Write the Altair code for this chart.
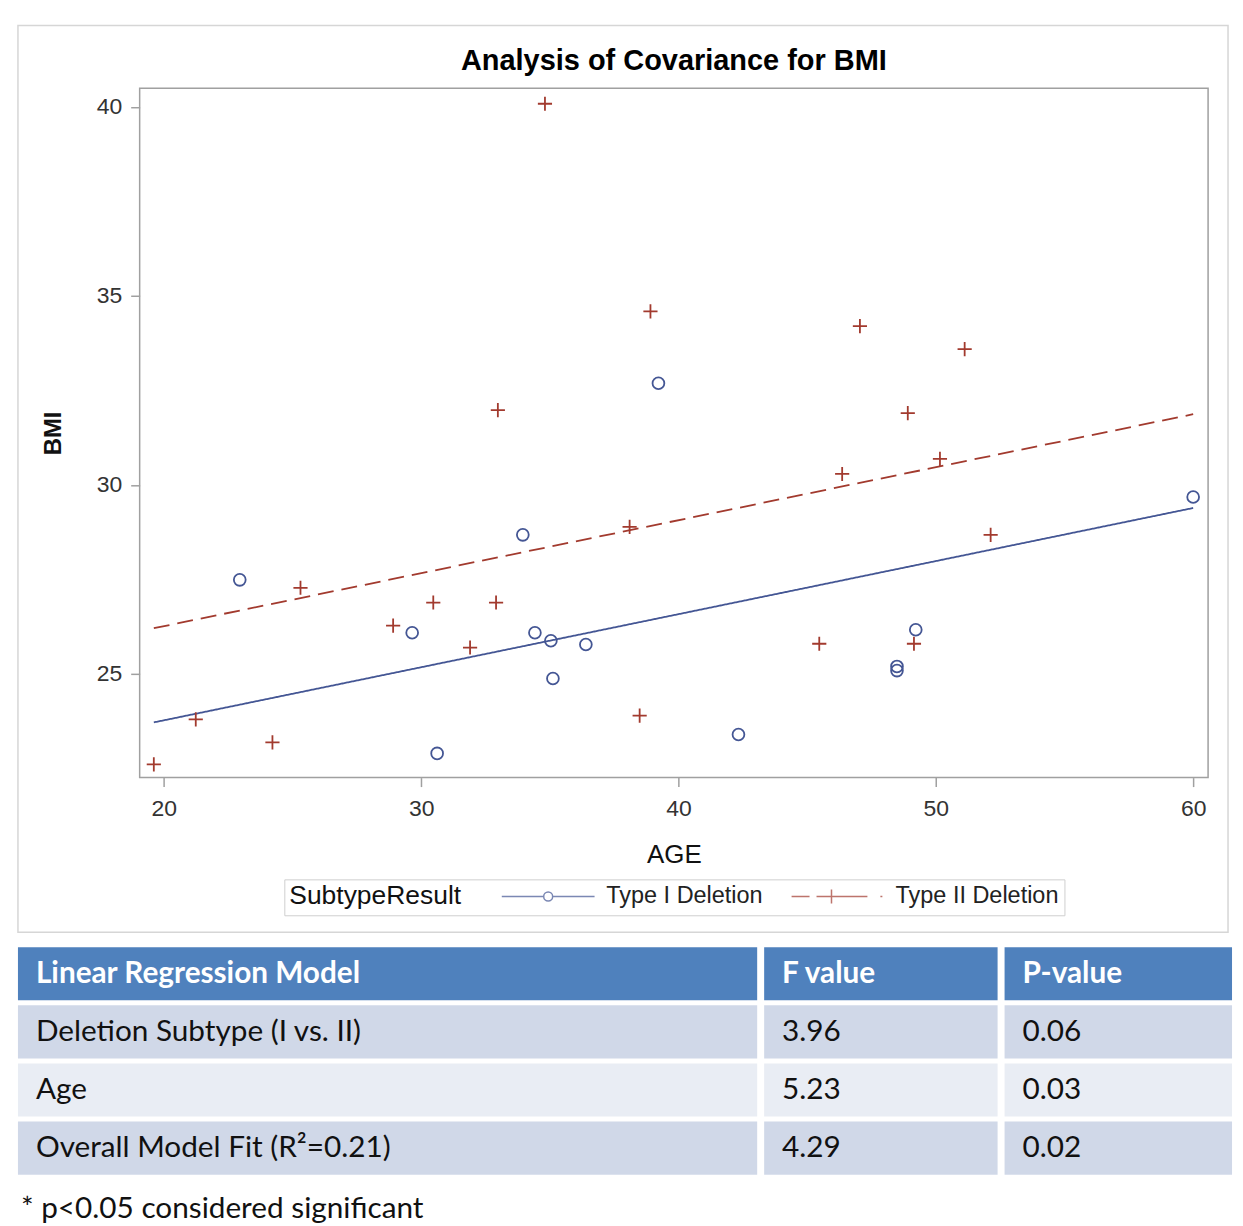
import altair as alt
import pandas as pd

# ---------------- data ----------------
groups = ["Type I Deletion", "Type II Deletion"]

type1_age = [22.95, 29.65, 30.62, 33.95, 34.42, 35.04, 35.12, 36.40, 39.22, 42.33, 48.49, 48.49, 49.22, 60.0]
type1_bmi = [27.49, 26.09, 22.90, 28.68, 26.09, 25.88, 24.88, 25.78, 32.69, 23.40, 25.20, 25.09, 26.17, 29.68]

type2_age = [19.61, 21.24, 24.22, 25.31, 28.91, 30.47, 31.90, 32.91, 32.98, 34.81, 38.10,
             38.49, 38.91, 45.47, 46.36, 47.05, 48.91, 49.15, 50.16, 51.12, 52.13]
type2_bmi = [22.61, 23.80, 23.19, 27.28, 26.28, 26.89, 25.70, 26.89, 31.98, 40.08, 28.89,
             23.90, 34.59, 25.80, 30.29, 34.20, 31.90, 25.80, 30.69, 33.59, 28.68]

fit_age = [19.61, 60.0]
fit_type1 = [23.72, 29.39]
fit_type2 = [26.21, 31.87]

x_ticks = [20, 30, 40, 50, 60]
y_ticks = [25, 30, 35, 40]

chart_title = ["Analysis of Covariance for BMI"]
table_col1 = ["Linear Regression Model", "Deletion Subtype (I vs. II)", "Age", "Overall Model Fit (R\u00b2=0.21)"]
table_col2 = ["F value", "3.96", "5.23", "4.29"]
table_col3 = ["P-value", "0.06", "0.03", "0.02"]
row_kind = ["head", "odd", "even", "odd"]
footnote = ["* p<0.05 considered significant"]

# ---------------- styles ----------------
BLUE = "#445694"
RED = "#A23A2E"
FONT = "Liberation Sans"
TFONT = "Lato"
TSIZE = 29.8

points = pd.DataFrame({
    "age": type1_age + type2_age,
    "bmi": type1_bmi + type2_bmi,
    "subtype": [groups[0]] * len(type1_age) + [groups[1]] * len(type2_age),
})
fits = pd.DataFrame({
    "age": fit_age + fit_age,
    "bmi": fit_type1 + fit_type2,
    "subtype": [groups[0]] * 2 + [groups[1]] * 2,
})

W, H = 1071, 691
LEFT = 122  # space between panel border and plot area

xenc = alt.X("age:Q",
             scale=alt.Scale(domain=[19.06, 60.58], nice=False, zero=False),
             axis=alt.Axis(values=x_ticks, title="AGE", grid=False, domain=False,
                           tickColor="#a0a0a0", tickSize=9, tickWidth=1.5,
                           labelFont=FONT, labelFontSize=23, labelColor="#333333", labelPadding=11,
                           titleFont=FONT, titleFontSize=26, titleFontWeight="normal",
                           titleColor="#111111", titlePadding=21))
yenc = alt.Y("bmi:Q",
             scale=alt.Scale(domain=[22.26, 40.49], nice=False, zero=False),
             axis=alt.Axis(values=y_ticks, title="BMI", grid=False, domain=False,
                           tickColor="#a0a0a0", tickSize=9, tickWidth=1.5,
                           labelFont=FONT, labelFontSize=23, labelColor="#333333", labelPadding=9,
                           titleFont=FONT, titleFontSize=24, titleFontWeight="bold",
                           titleColor="#111111", titlePadding=31))

color_scale = alt.Scale(domain=groups, range=[BLUE, RED])

plus_path = "M-1.2,0H1.2M0,-1.2V1.2"
point_layer = alt.Chart(points).mark_point(filled=False, strokeWidth=1.8, size=140, opacity=1).encode(
    x=xenc, y=yenc,
    color=alt.Color("subtype:N", scale=color_scale, legend=None),
    shape=alt.Shape("subtype:N", scale=alt.Scale(domain=groups, range=["circle", plus_path]), legend=None),
)

line_layer = alt.Chart(fits).mark_line(strokeWidth=1.8).encode(
    x=xenc, y=yenc,
    color=alt.Color("subtype:N", scale=color_scale, legend=None),
    strokeDash=alt.StrokeDash("subtype:N", scale=alt.Scale(domain=groups, range=[[1, 0], [16, 8]]), legend=None),
    detail="subtype:N",
)

# legend symbols: line + marker, drawn at 10 px per unit (symbolSize 400)
leg_path1 = ("M-4.65,0H-0.45M0.45,0H4.65"
             "M0.45,0A0.45,0.45,0,1,1,-0.45,0A0.45,0.45,0,1,1,0.45,0Z")
leg_path2 = "M-4.6,0H-2.8M-2.1,0H3M4.3,0H4.5M-0.6,-0.7V0.7"

legend_params = dict(
    title="SubtypeResult", orient="none", legendX=145, legendY=793,
    direction="horizontal", titleOrient="left",
    titleFont=FONT, titleFontSize=26.5, titleFontWeight="normal", titleColor="#111111",
    titlePadding=40,
    labelFont=FONT, labelFontSize=23.5, labelColor="#222222", labelOffset=46.5, labelLimit=0,
    symbolOffset=34.75,
    columnPadding=25, symbolSize=400, symbolStrokeWidth=1.5,
    strokeColor="#cfcfcf", fillColor="white", padding=5,
)
legend_layer = alt.Chart(points).transform_filter("false").mark_point(filled=False, strokeWidth=1.5).encode(
    x=xenc, y=yenc,
    color=alt.Color("subtype:N", scale=alt.Scale(domain=groups, range=[BLUE, RED]),
                    legend=alt.Legend(**legend_params)),
    shape=alt.Shape("subtype:N", scale=alt.Scale(domain=groups, range=[leg_path1, leg_path2]),
                    legend=alt.Legend(**legend_params)),
)

one = pd.DataFrame({"t": chart_title})
border = alt.Chart(one).mark_rect(
    fill="transparent", stroke="#d6d6d6", strokeWidth=1.5
).encode(x=alt.value(-LEFT), x2=alt.value(W + 20), y=alt.value(-63), y2=alt.value(846))

title_mark = alt.Chart(one).mark_text(
    font=FONT, fontSize=29, fontWeight="bold", color="black", baseline="middle", align="center"
).encode(x=alt.value(W / 2), y=alt.value(-27), text="t:N")

top = alt.layer(border, title_mark, line_layer, point_layer, legend_layer).resolve_scale(
    color="independent", shape="independent"
).properties(
    width=W, height=H,
    view=alt.ViewBackground(stroke="#a0a0a0", strokeWidth=1.5),
)

# ---------------- table ----------------
TH = 228
kind_scale = alt.Scale(domain=["head", "odd", "even"], range=["#4F81BD", "#D0D8E8", "#E9EDF4"])


def table_column(values, w, shift=0):
    df = pd.DataFrame({"row": list(range(len(values))), "text": values, "kind": row_kind})
    y = alt.Y("row:O", axis=None, scale=alt.Scale(paddingInner=0.0858, paddingOuter=0))
    base = alt.Chart(df)
    rect = base.mark_rect().encode(
        y=y, x=alt.value(-shift), x2=alt.value(w - shift),
        fill=alt.Fill("kind:N", scale=kind_scale, legend=None))
    head = base.transform_filter("datum.kind == 'head'").mark_text(
        align="left", font=TFONT, fontSize=TSIZE, fontWeight="bold", color="white"
    ).encode(y=y, x=alt.value(18 - shift), text="text:N")
    body = base.transform_filter("datum.kind != 'head'").mark_text(
        align="left", font=TFONT, fontSize=TSIZE, color="#111111"
    ).encode(y=y, x=alt.value(18 - shift), text="text:N")
    return alt.layer(rect, head, body).properties(width=w - shift, height=TH)


table = alt.hconcat(
    table_column(table_col1, 741, shift=LEFT),
    table_column(table_col2, 234),
    table_column(table_col3, 228),
    spacing=5,
)

foot = alt.Chart(pd.DataFrame({"t": footnote})).mark_text(
    align="left", baseline="middle", font=TFONT, fontSize=TSIZE, color="#111111"
).encode(x=alt.value(3 - LEFT), y=alt.value(20), text="t:N").properties(width=W, height=34)

chart = alt.vconcat(top, table, foot, spacing=12).properties(
    padding={"left": 16, "top": 22, "right": 10, "bottom": 0},
    background="white",
).configure_view(stroke="transparent")

chart.save("out.html", embed_options={"renderer": "svg", "actions": False})
